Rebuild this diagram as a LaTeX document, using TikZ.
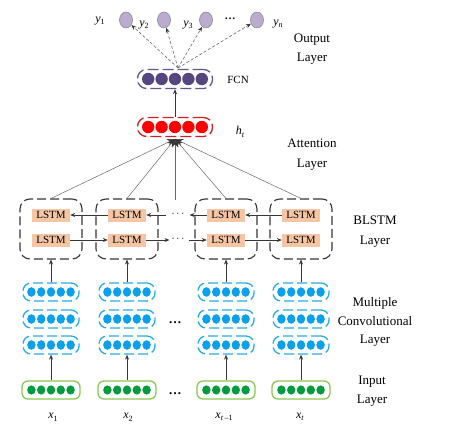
\documentclass[tikz,border=0pt]{standalone}
\usepackage{fontspec}
\setmainfont{Liberation Serif}
\usetikzlibrary{arrows.meta,shapes.geometric}
\definecolor{lstmc}{RGB}{246,198,164}
\definecolor{blk}{RGB}{55,55,55}
\definecolor{convc}{RGB}{40,170,230}
\definecolor{convf}{RGB}{10,160,235}
\definecolor{inc}{RGB}{140,200,80}
\definecolor{inf}{RGB}{0,155,60}
\definecolor{redc}{RGB}{210,30,30}
\definecolor{redf}{RGB}{255,0,0}
\definecolor{purc}{RGB}{95,85,145}
\definecolor{purf}{RGB}{85,70,130}
\definecolor{outf}{RGB}{185,172,208}
\definecolor{outd}{RGB}{140,140,150}
\definecolor{lgray}{RGB}{105,105,105}
\newcommand{\mysub}[2]{\textit{#1}\raisebox{-2.5pt}{\fontsize{8}{8}\selectfont #2}}
\begin{document}
\begin{tikzpicture}[x=1pt,y=-1pt,
  lbl/.style={font=\fontsize{13}{18.5}\selectfont, align=center},
  sml/.style={font=\fontsize{12}{12}\selectfont, inner sep=0pt},
  lstm/.style={rectangle, fill=lstmc, minimum width=38pt, minimum height=13pt, inner sep=0pt, font=\fontsize{11}{11}\selectfont},
  blbox/.style={draw=blk, line width=1.1pt, dash pattern=on 9pt off 4pt, rounded corners=10pt, minimum width=62pt, minimum height=60pt, inner sep=0pt},
  convbox/.style={draw=convc, line width=1.3pt, dash pattern=on 10pt off 4pt, rounded corners=8pt, minimum width=56pt, minimum height=18pt, inner sep=0pt},
  inbox/.style={draw=inc, line width=1.3pt, rounded corners=6pt, minimum width=58pt, minimum height=18pt, inner sep=0pt},
  bigbox/.style={line width=1.3pt, dash pattern=on 11pt off 4pt, rounded corners=9pt, minimum width=75pt, minimum height=19pt, inner sep=0pt},
  outnode/.style={ellipse, fill=outf, draw=outd, line width=0.6pt, minimum width=13pt, minimum height=16pt, inner sep=0pt},
  arr/.style={-{Stealth[length=5pt,width=4pt]}, line width=0.6pt, draw=blk},
  att/.style={-{Stealth[length=8pt,width=7pt,color=blk]}, line width=0.5pt, draw=lgray},
  darr/.style={-{Stealth[length=5pt,width=4pt,color=blk]}, line width=0.6pt, draw=lgray, dash pattern=on 3pt off 2pt},
  dts/.style={font=\fontsize{13}{13}\selectfont\bfseries, inner sep=0pt}
]
\useasboundingbox (0,0) rectangle (454,430);

% columns
\foreach \i/\x in {1/51,2/127,3/226,4/301}{
  \node[inbox] (in\i) at (\x,390) {};
  \foreach \k in {-2,...,2} \fill[inf] (\x+\k*9.8,390) ellipse (4.2pt and 4.6pt);
  \foreach \j/\y in {1/292,2/319,3/345}{
    \node[convbox] (cv\i-\j) at (\x,\y) {};
    \foreach \k in {-2,...,2} \fill[convf] (\x+\k*9.8,\y) ellipse (4.2pt and 4.8pt);
  }
  \node[blbox] (bl\i) at (\x,229) {};
  \node[lstm] (lt\i) at (\x,215) {LSTM};
  \node[lstm] (lb\i) at (\x,240) {LSTM};
  \draw[arr] (in\i.north) -- (cv\i-3.south);
  \draw[arr] (cv\i-1.north) -- (bl\i.south);
}

% column labels
\node[sml] (x1) at (53,417) {\mysub{x}{1}};
\node[sml] (x2) at (128,417) {\mysub{x}{2}};
\node[sml] (x3) at (224,417) {\mysub{x}{\textit{t}\,–1}};
\node[sml] (x4) at (300,417) {\mysub{x}{\textit{t}}};

% dots between columns
\node[dts] (dc) at (175,323) {…};
\node[dts] (di) at (175,394) {…};

% BLSTM horizontal connections
\node[font=\fontsize{11}{11}\selectfont, inner xsep=5pt, inner ysep=1pt] (dt) at (178,214) {$\cdots$};
\node[font=\fontsize{11}{11}\selectfont, inner xsep=0pt, inner ysep=1pt] (db) at (178,239) {$\cdots$};
\draw[arr] (lt2.west) -- (lt1.east);
\draw[arr] (lt4.west) -- (lt3.east);
\draw[arr] (lt3.west) -- (dt.east |- lt3.west);
\draw[arr] (dt.west |- lt2.east) -- (lt2.east);
\draw[arr] (lb1.east) -- (lb2.west);
\draw[arr] (lb3.east) -- (lb4.west);
\draw[arr] (lb2.east) -- ([xshift=-2pt]db.west |- lb2.east);
\draw[arr] ([xshift=4pt]db.east |- lb3.west) -- (lb3.west);

% attention
\node[bigbox, draw=redc] (red) at (175,127) {};
\foreach \k in {-2,...,2} \fill[redf] (175+\k*13.4,127) circle (6.2pt);
\coordinate (ap) at (175,139);
\coordinate (vm) at (175,200);
\foreach \i in {1,...,4} \draw[att] (bl\i.north) -- (ap);
\draw[att] (vm) -- (ap);
\node[sml] (ht) at (240,132) {\mysub{h}{\textit{t}}};

% FCN
\node[bigbox, draw=purc] (fcn) at (175,79) {};
\foreach \k in {-2,...,2} \fill[purf] (175+\k*13.4,79) circle (6.2pt);
\draw[arr] (red.north) -- (fcn.south);
\node[sml, font=\fontsize{11}{11}\selectfont] (fcnl) at (238,80) {FCN};

% output
\coordinate (oa) at (178,68);
\foreach \i/\x in {1/126,2/164,3/206,4/257}{
  \node[outnode] (o\i) at (\x,20) {};
  \draw[darr] (oa) -- (o\i);
}
\node[sml] (y1) at (100,21) {\mysub{y}{1}};
\node[sml] (y2) at (144,25) {\mysub{y}{2}};
\node[sml] (y3) at (188,25) {\mysub{y}{3}};
\node[dts, font=\fontsize{11}{11}\selectfont\bfseries] (yd) at (230,19) {…};
\node[sml] (yn) at (278,24) {\mysub{y}{\textit{n}}};

% layer labels
\node[lbl] (l1) at (312,49) {Output\\Layer};
\node[lbl, font=\fontsize{13}{20}\selectfont] (l2) at (312,155) {Attention\\Layer};
\node[lbl, font=\fontsize{13}{20}\selectfont] (l3) at (375,232) {BLSTM\\Layer};
\node[lbl] (l4) at (375,322) {Multiple\\Convolutional\\Layer};
\node[lbl] (l5) at (372,391) {Input\\Layer};
\end{tikzpicture}
\end{document}
